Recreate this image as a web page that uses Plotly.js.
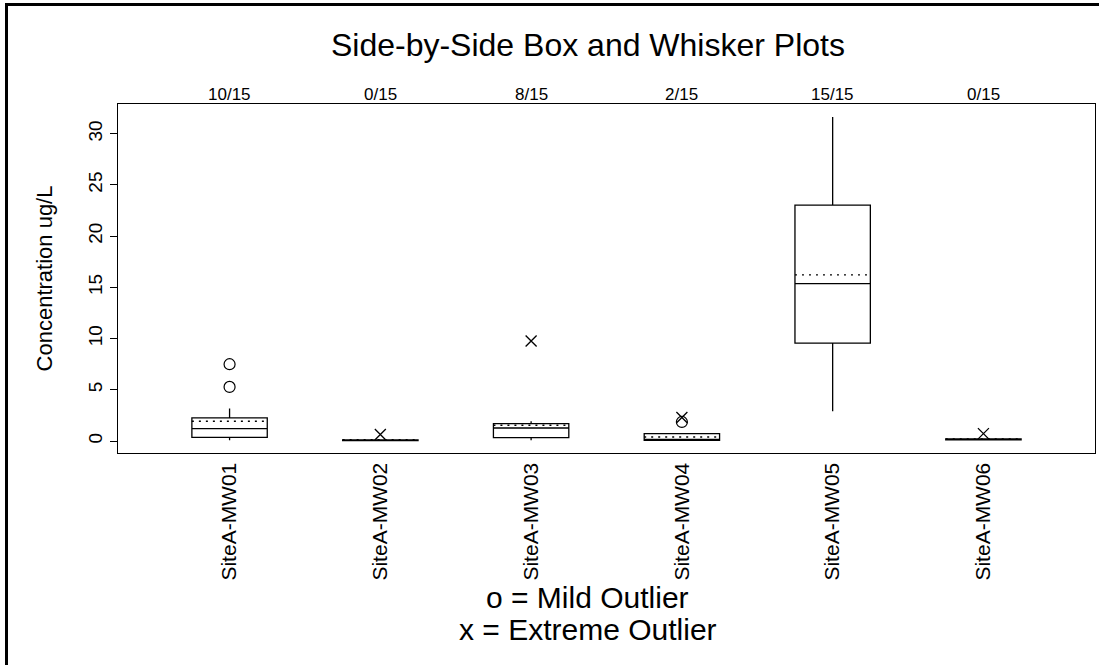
<!DOCTYPE html>
<html>
<head>
<meta charset="utf-8">
<script src="https://cdn.plot.ly/plotly-3.0.1.min.js"></script>
<style>
  html, body { margin: 0; padding: 0; background: #fff; overflow: hidden; }
  #chart { width: 1099px; height: 665px; }
  #frame { position: absolute; left: 5px; top: 3px; width: 2000px; height: 2000px;
           border-left: 3px solid #000; border-top: 3px solid #000; pointer-events: none; }
</style>
</head>
<body>
<div id="chart"></div>
<div id="frame"></div>
<script>
// Monitoring wells and detection counts
const wells = ["SiteA-MW01", "SiteA-MW02", "SiteA-MW03", "SiteA-MW04", "SiteA-MW05", "SiteA-MW06"];
const detects = ["10/15", "0/15", "8/15", "2/15", "15/15", "0/15"];

// Box summary statistics (ug/L)
const q1 = [0.36, 0.05, 0.33, 0.07, 9.56, 0.12];
const median = [1.21, 0.10, 1.27, 0.10, 15.36, 0.17];
const q3 = [2.25, 0.10, 1.70, 0.72, 23.03, 0.20];
const lowerWhisker = [0.07, 0.05, 0.07, 0.03, 2.90, 0.10];
const upperWhisker = [3.17, 0.10, 1.93, 0.72, 31.64, 0.22];
const means = [1.93, 0.13, 1.54, 0.39, 16.21, 0.20];

// Outliers: well index (1-based) and concentration
const mildWell = [1, 1, 4];
const mildValue = [7.50, 5.28, 1.86];
const extremeWell = [2, 3, 4, 6];
const extremeValue = [0.63, 9.76, 2.30, 0.72];

const yTicks = [0, 5, 10, 15, 20, 25, 30];

const FONT = "'Liberation Sans', Arial, Helvetica, sans-serif";
const BOX_WIDTH = 0.5;
const positions = wells.map((_, i) => i + 1);

// Dotted mean line across each box
const meanX = [], meanY = [];
positions.forEach((p, i) => {
  meanX.push(p - BOX_WIDTH / 2, p + BOX_WIDTH / 2, null);
  meanY.push(means[i], means[i], null);
});

const traces = [
  {
    type: "box",
    x: positions,
    q1: q1,
    median: median,
    q3: q3,
    lowerfence: lowerWhisker,
    upperfence: upperWhisker,
    width: BOX_WIDTH,
    whiskerwidth: 0,
    boxpoints: false,
    fillcolor: "#ffffff",
    line: { color: "#000000", width: 1.3 },
    hoverinfo: "skip",
    showlegend: false
  },
  {
    type: "scatter",
    mode: "lines",
    x: meanX,
    y: meanY,
    line: { color: "#000000", width: 1.3, dash: "2px,5px" },
    hoverinfo: "skip",
    showlegend: false
  },
  {
    type: "scatter",
    mode: "markers",
    x: mildWell,
    y: mildValue,
    marker: { symbol: "circle-open", size: 11, color: "#000000", line: { width: 1.2 } },
    showlegend: false
  },
  {
    type: "scatter",
    mode: "markers",
    x: extremeWell,
    y: extremeValue,
    marker: { symbol: "x-thin-open", size: 11, color: "#000000", line: { width: 1.3, color: "#000000" } },
    showlegend: false
  }
];

const annotations = detects.map((t, i) => ({
  text: t,
  x: positions[i],
  xref: "x",
  y: 1.027,
  yref: "paper",
  yanchor: "middle",
  xanchor: "center",
  showarrow: false,
  font: { family: FONT, size: 17, color: "#000" }
}));

annotations.push(
  { text: "o = Mild Outlier", x: 0.481, xref: "paper", y: -0.414, yref: "paper",
    xanchor: "center", yanchor: "middle", showarrow: false,
    font: { family: FONT, size: 30, color: "#000" } },
  { text: "x = Extreme Outlier", x: 0.481, xref: "paper", y: -0.506, yref: "paper",
    xanchor: "center", yanchor: "middle", showarrow: false,
    font: { family: FONT, size: 30, color: "#000" } }
);

const layout = {
  width: 1099,
  height: 665,
  margin: { l: 118, r: 4, t: 104, b: 212 },
  paper_bgcolor: "#ffffff",
  plot_bgcolor: "#ffffff",
  font: { family: FONT, color: "#000" },
  title: {
    text: "Side-by-Side Box and Whisker Plots",
    x: 0.535, xref: "container", xanchor: "center",
    y: 0.932, yref: "container", yanchor: "middle",
    font: { family: FONT, size: 32, color: "#000" }
  },
  xaxis: {
    range: [0.26, 6.74],
    tickmode: "array",
    tickvals: positions,
    ticktext: wells,
    tickangle: -90,
    ticks: "",
    tickfont: { family: FONT, size: 21, color: "#000" },
    showgrid: false,
    zeroline: false,
    showline: true,
    mirror: true,
    linecolor: "#000",
    linewidth: 1.3
  },
  yaxis: {
    range: [-1.17, 32.9],
    tickmode: "array",
    tickvals: yTicks,
    tickangle: -90,
    ticks: "outside",
    ticklen: 7,
    tickwidth: 1,
    tickcolor: "#000",
    tickfont: { family: FONT, size: 19, color: "#000" },
    title: { text: "Concentration ug/L", standoff: 26, font: { family: FONT, size: 22, color: "#000" } },
    showgrid: false,
    zeroline: false,
    showline: true,
    mirror: true,
    linecolor: "#000",
    linewidth: 1.3
  },
  annotations: annotations,
  showlegend: false
};

Plotly.newPlot("chart", traces, layout, { displayModeBar: false, staticPlot: true });
</script>
</body>
</html>
